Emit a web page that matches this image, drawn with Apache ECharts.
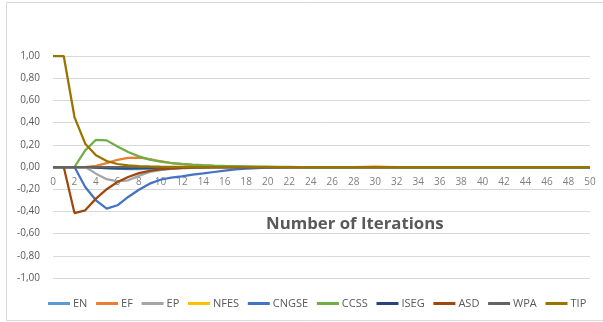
<!DOCTYPE html>
<html><head><meta charset="utf-8">
<script src="https://cdn.jsdelivr.net/npm/echarts@6/dist/echarts.min.js"></script>
<style>html,body{margin:0;padding:0;background:#fff}#c{width:603px;height:322px}</style>
</head><body><div id="c"></div>
<script>
const categories = ["0","1","2","3","4","5","6","7","8","9","10","11","12","13","14","15","16","17","18","19","20","21","22","23","24","25","26","27","28","29","30","31","32","33","34","35","36","37","38","39","40","41","42","43","44","45","46","47","48","49","50"];
const EN    = [0,0,0,0,-0.005,-0.01,-0.015,-0.02,-0.02,-0.018,-0.015,-0.012,-0.009,-0.006,-0.004,-0.002,-0.001,0,0,0,0,0,0,0,0,0,0,0,0,0,0,0,0,0,0,0,0,0,0,0,0,0,0,0,0,0,0,0,0,0,0];
const EF    = [0,0,0,0,0.01,0.035,0.065,0.082,0.085,0.072,0.052,0.036,0.025,0.017,0.012,0.008,0.005,0.003,0.002,0.001,0,0,0,0,0,0,0,0,0,0.002,0.004,0.002,0,0,0,0,0,0,0,0,0,0,0,0,0,0,0,0,0,0,0];
const EP    = [0,0,0,0,-0.06,-0.11,-0.13,-0.12,-0.08,-0.045,-0.028,-0.018,-0.012,-0.008,-0.005,-0.003,-0.002,-0.001,0,0,0,0,0,0,0,0,0,0,0,0,0,0,0,0,0,0,0,0,0,0,0,0,0,0,0,0,0,0,0,0,0];
const NFES  = [0,0,0,0,0,0,0,0,0,0,0,0,0,0,0,0,0,0,0,0,0,0,0,0,0,0,0,0,0,0,0,0,0,0,0,0,0,0,0,0,0,0,0,0,0,0,0,0,0,0,0];
const CNGSE = [0,0,0,-0.18,-0.3,-0.375,-0.345,-0.27,-0.205,-0.15,-0.115,-0.095,-0.085,-0.068,-0.058,-0.045,-0.032,-0.022,-0.015,-0.01,-0.006,-0.004,-0.002,-0.001,0,0,0,0,0,0,0,0,0,0,0,0,0,0,0,0,0,0,0,0,0,0,0,0,0,0,0];
const CCSS  = [0,0,0,0.15,0.245,0.24,0.185,0.135,0.096,0.066,0.048,0.036,0.028,0.022,0.017,0.013,0.01,0.008,0.006,0.004,0.003,0.002,0.001,0,0,0,0,0,0,0,0,0,0,0,0,0,0,0,0,0,0,0,0,0,0,0,0,0,0,0,0];
const ISEG  = [0,0,0,0,-0.005,-0.01,-0.012,-0.012,-0.01,-0.008,-0.006,-0.004,-0.002,-0.001,0,0,0,0,0,0,0,0,0,0,0,0,0,0,0,0,0,0,0,0,0,0,0,0,0,0,0,0,0,0,0,0,0,0,0,0,0];
const ASD   = [0,0,-0.415,-0.39,-0.285,-0.2,-0.135,-0.09,-0.055,-0.035,-0.022,-0.014,-0.009,-0.006,-0.004,-0.002,-0.001,0,0,0,0,0,0,0,0,0,0,0,0,0,0,0,0,0,0,0,0,0,0,0,0,0,0,0,0,0,0,0,0,0,0];
const WPA   = [0,0,0,0,0,0,0,0,0,0,0,0,0,0,0,0,0,0,0,0,0,0,0,0,0,0,0,0,0,0,0,0,0,0,0,0,0,0,0,0,0,0,0,0,0,0,0,0,0,0,0];
const TIP   = [1,1,0.45,0.21,0.105,0.054,0.027,0.014,0.008,0.005,0.003,0.002,0.001,0,0,0,0,0,0,0,0,0,0,0,0,0,0,0,0,0,0,0,0,0,0,0,0,0,0,0,0,0,0,0,0,0,0,0,0,0,0];
const seriesNames = ["EN","EF","EP","NFES","CNGSE","CCSS","ISEG","ASD","WPA","TIP"];
const seriesData = [EN,EF,EP,NFES,CNGSE,CCSS,ISEG,ASD,WPA,TIP];
const colors = ["#5B9BD5","#ED7D31","#A5A5A5","#FFC000","#4472C4","#70AD47","#264478","#9E480E","#636363","#997300"];
const yTicks = [-1,-0.8,-0.6,-0.4,-0.2,0,0.2,0.4,0.6,0.8,1];
const axisTitle = "Number of Iterations";

const chart = echarts.init(document.getElementById('c'));
chart.setOption({
  animation:false,
  color: colors,
  graphic:[
    {type:'rect', left:4, top:0, shape:{width:598, height:318}, style:{fill:'none', stroke:'#d9d9d9', lineWidth:1}, z:-1},
    {type:'text', left:266, top:216, style:{text:axisTitle, font:'bold 16.8px "Open Sans", sans-serif', fill:'#595959'}}
  ],
  grid:{left:53, right:13, top:56, bottom:44},
  legend:{
    data:seriesNames, left:43, top:293, itemWidth:22, itemHeight:3, itemGap:8.7,
    icon:'rect',
    textStyle:{fontSize:11, color:'#595959', fontFamily:'"Liberation Sans Narrow", "Open Sans", sans-serif', padding:[0,0,0,-2]}
  },
  xAxis:{
    type:'category', data:categories, boundaryGap:false,
    position:'bottom', offset:-111,
    axisLine:{onZero:false, lineStyle:{color:'#d9d9d9'}},
    axisTick:{show:false},
    axisLabel:{interval:1, color:'#7f7f7f', fontSize:10, margin:10, fontFamily:'"Open Sans", sans-serif'},
    splitLine:{show:false}
  },
  yAxis:{
    type:'value', min:-1, max:1, interval:0.2,
    axisLine:{show:false}, axisTick:{show:false},
    axisLabel:{color:'#595959', fontSize:10, margin:13, fontFamily:'"Open Sans", sans-serif',
      formatter:v=>{ const t = yTicks.find(x=>Math.abs(x-v)<1e-6); return (t===undefined?v:t).toFixed(2).replace('.',','); }},
    splitLine:{lineStyle:{color:'#d9d9d9', width:1}}
  },
  series: seriesNames.map((n,i)=>({
    name:n, type:'line', data:seriesData[i], showSymbol:false, symbol:'none',
    lineStyle:{width:2.25, color:colors[i]}, itemStyle:{color:colors[i]}
  }))
});
</script></body></html>
